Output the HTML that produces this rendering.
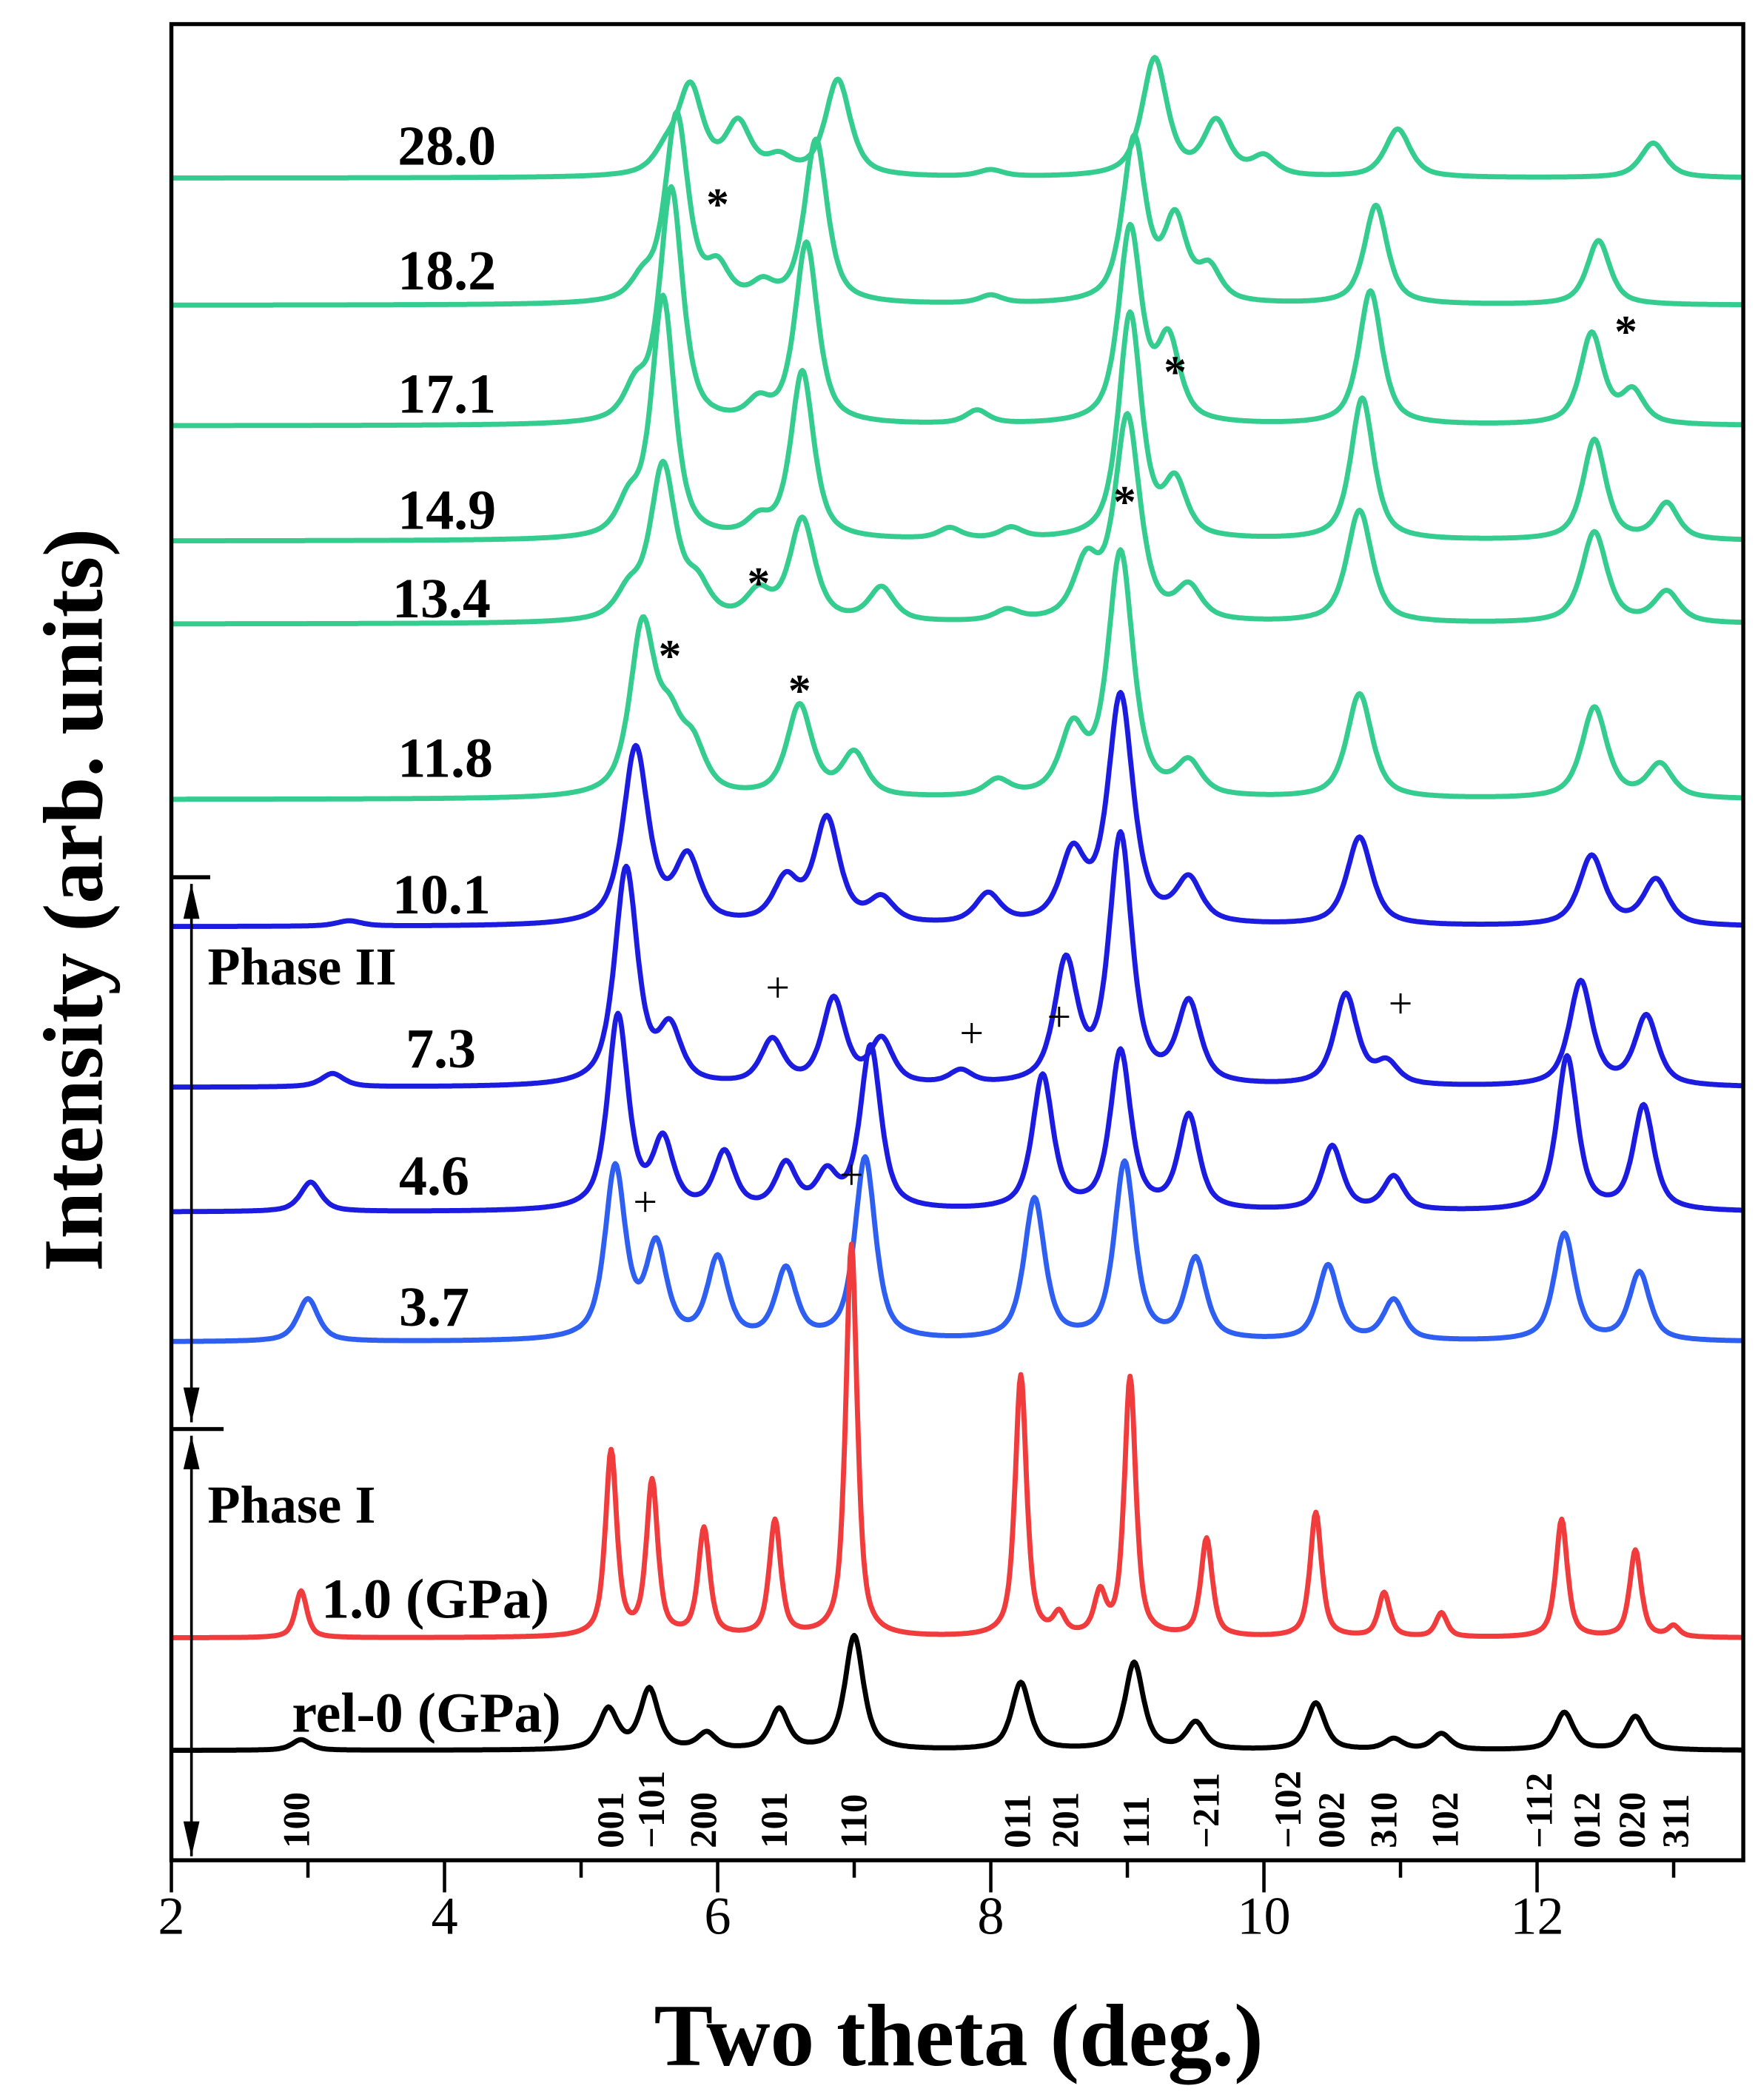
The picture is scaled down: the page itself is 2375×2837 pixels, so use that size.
<!DOCTYPE html>
<html><head><meta charset="utf-8"><title>XRD patterns</title>
<style>
html,body{margin:0;padding:0;background:#fff;}
svg{display:block;}
text{font-family:"Liberation Serif",serif;}
</style></head>
<body>
<svg id="chart" width="2375" height="2837" viewBox="0 0 1313 1568" preserveAspectRatio="none" xmlns="http://www.w3.org/2000/svg">
<rect x="0" y="0" width="1313" height="1568" fill="#fff"/>
<g id="traces"></g>
<g id="ann"></g>
<rect x="128" y="18" width="1174" height="1371" fill="none" stroke="#000" stroke-width="3"/>
<g id="axis"></g>
<text x="716" y="1542" text-anchor="middle" font-size="66" font-weight="bold">Two theta (deg.)</text>
<text transform="translate(76,672) rotate(-90)" text-anchor="middle" font-size="63" font-weight="bold">Intensity (arb. units)</text>
</svg>
<script>
// x-axis
const xMin = 2, xMax = 13.5;
const xTicks = [2,4,6,8,10,12];
const xMinorTicks = [3,5,7,9,11,13];
// series labels and baselines
const seriesLabels = ["28.0","18.2","17.1","14.9","13.4","11.8","10.1","7.3","4.6","3.7","1.0 (GPa)","rel-0 (GPa)"];
const seriesOffsets = [133,228,318,404,466,597,692,812,905,1002,1223,1307];
const seriesColors = ["#35cc8f","#35cc8f","#35cc8f","#35cc8f","#35cc8f","#35cc8f","#1c1ce0","#1c1ce0","#1c1ce0","#2f5ff0","#f03c3c","#000000"];
// peak positions (deg) and heights for each pattern
const pos280 = [5.62,5.8,6.15,6.45,6.88,8.0,9.2,9.65,10.0,10.98,12.85];
const int280 = [15,65,38,12,72,5,88,40,14,36,26];
const pos182 = [5.45,5.7,6.0,6.33,6.72,8.0,9.05,9.35,9.6,10.82,12.45];
const int182 = [15,140,24,12,122,6,122,60,24,74,48];
const pos171 = [5.4,5.66,6.3,6.65,7.9,9.02,9.3,10.78,12.4,12.7];
const int171 = [24,175,14,135,10,145,60,100,68,24];
const pos149 = [5.35,5.6,6.3,6.62,7.7,8.15,9.02,9.35,10.72,12.42,12.95];
const int149 = [24,180,12,125,8,8,168,40,106,75,27];
const pos134 = [5.35,5.6,5.85,6.3,6.62,7.2,8.12,8.7,9.0,9.45,10.7,12.42,12.95];
const int134 = [20,115,24,20,76,25,8,42,152,24,84,68,23];
const pos118 = [5.45,5.65,5.82,6.6,7.0,8.05,8.6,8.95,9.45,10.7,12.42,12.9];
const int118 = [125,45,32,68,32,12,48,182,24,78,68,25];
const pos101 = [3.3,5.4,5.78,6.5,6.8,7.2,7.98,8.6,8.95,9.45,10.7,12.4,12.87];
const int101 = [4,132,48,32,78,18,22,50,170,32,66,52,34];
const pos73 = [3.18,5.33,5.65,6.4,6.85,7.2,7.78,8.55,8.95,9.45,10.6,10.9,12.32,12.8];
const int73 = [10,162,40,33,64,33,10,90,185,60,68,16,78,52];
const pos46 = [3.02,5.27,5.6,6.05,6.5,6.8,7.12,8.38,8.95,9.45,10.5,10.95,12.22,12.78];
const int46 = [22,145,50,42,33,25,122,100,118,70,48,25,115,78];
const pos37 = [3.0,5.25,5.55,6.0,6.5,7.08,8.32,8.98,9.5,10.47,10.95,12.2,12.75];
const int37 = [32,128,68,60,52,136,105,132,60,56,30,80,51];
const pos10 = [2.95,5.22,5.52,5.9,6.42,6.98,8.22,8.5,8.8,9.02,9.58,10.38,10.88,11.3,12.18,12.72,13.0];
const int10 = [35,138,115,80,86,293,195,15,30,193,73,93,33,18,88,65,8];
const posRel = [2.95,5.2,5.5,5.92,6.45,7.0,8.22,9.05,9.5,10.38,10.95,11.3,12.2,12.72];
const intRel = [8,30,45,12,30,85,50,65,20,35,8,12,28,25];
const seriesPos = [pos280,pos182,pos171,pos149,pos134,pos118,pos101,pos73,pos46,pos37,pos10,posRel];
const seriesInt = [int280,int182,int171,int149,int134,int118,int101,int73,int46,int37,int10,intRel];
const seriesWidth = [0.11,0.1,0.1,0.1,0.11,0.11,0.11,0.1,0.09,0.09,0.05,0.08];

// hkl labels
const hklLabels = ["100","001","\u2212101","200","101","110","011","201","111","\u2212211","\u2212102","002","310","102","\u2212112","012","020","311"];
const hklPos = [2.92,5.22,5.52,5.9,6.42,7.0,8.2,8.55,9.07,9.58,10.18,10.5,10.88,11.33,12.02,12.37,12.7,13.02];
// marker annotations
const starX = [6.0,9.35,12.65,8.98,6.3,5.65,6.6];
const starY = [150,275,245,372,433,487,513];
const plusX = [5.47,6.98,6.44,7.86,8.5,11.0];
const plusY = [898,878,738,772,760,750];

const NS = "http://www.w3.org/2000/svg";
const xScale = v => 128 + (v - xMin) * 102;
function mk(tag, attrs, parent){const e=document.createElementNS(NS,tag);for(const k in attrs)e.setAttribute(k,attrs[k]);parent.appendChild(e);return e;}
function yScale(i, v){return seriesOffsets[i] - v;}

const tr = document.getElementById('traces');
const ann = document.getElementById('ann');
const ax = document.getElementById('axis');
for (let i = 0; i < seriesLabels.length; i++) {
  const P = seriesPos[i], H = seriesInt[i], w = seriesWidth[i];
  let d = "";
  for (let x = xMin; x <= xMax + 1e-9; x += 0.01) {
    let s = 0;
    for (let j = 0; j < P.length; j++) {
      const u = (x - P[j]) / w;
      s += H[j] * (0.7 / (1 + u*u) + 0.3 * Math.exp(-0.693 * u*u));
    }
    d += (d ? "L" : "M") + xScale(x).toFixed(1) + "," + yScale(i, s).toFixed(1);
  }
  const p = mk('path', {d: d, fill: 'none', stroke: seriesColors[i], 'stroke-width': 3.8, 'stroke-linejoin': 'round'}, tr);
  
  
}
// series labels
const labelXs = [297,297,297,297,293,297,293,303,298,298,240,218];
const labelYs = [123,216,308,395,461,580,682,797,892,990,1208,1293];
for (let i = 0; i < seriesLabels.length; i++) {
  const t = mk('text', {x: labelXs[i], y: labelYs[i], 'font-size': 42, 'font-weight': 'bold'}, ann);
  t.textContent = seriesLabels[i];
  
  
}
// phase labels
const ph2 = mk('text', {x: 155, y: 735, 'font-size': 40, 'font-weight': 'bold'}, ann); ph2.textContent = "Phase II";


const ph1 = mk('text', {x: 155, y: 1137, 'font-size': 40, 'font-weight': 'bold'}, ann); ph1.textContent = "Phase I";


// phase arrows
const arr = mk('g', {stroke: '#000', 'stroke-width': 2}, ann);


mk('line', {x1: 128, y1: 655, x2: 157, y2: 655, 'stroke-width': 3}, arr);
mk('line', {x1: 128, y1: 1067, x2: 167, y2: 1067, 'stroke-width': 3}, arr);
mk('line', {x1: 143, y1: 660, x2: 143, y2: 1062}, arr);
mk('line', {x1: 143, y1: 1072, x2: 143, y2: 1386}, arr);
mk('path', {d: 'M143,660 L137,686 L149,686Z', fill: '#000', stroke: 'none'}, arr);
mk('path', {d: 'M143,1062 L137,1036 L149,1036Z', fill: '#000', stroke: 'none'}, arr);
mk('path', {d: 'M143,1072 L137,1097 L149,1097Z', fill: '#000', stroke: 'none'}, arr);
mk('path', {d: 'M143,1386 L137,1360 L149,1360Z', fill: '#000', stroke: 'none'}, arr);
// markers
for (let i = 0; i < starX.length; i++) {
  const t = mk('text', {x: xScale(starX[i]), y: starY[i] + 14, 'font-size': 34, 'font-weight': 'bold', 'text-anchor': 'middle'}, ann);
  t.textContent = "*";
  
  
}
for (let i = 0; i < plusX.length; i++) {
  const t = mk('text', {x: xScale(plusX[i]), y: plusY[i] + 10, 'font-size': 32, 'text-anchor': 'middle'}, ann);
  t.textContent = "+";
  
  
}
// hkl labels
for (let i = 0; i < hklLabels.length; i++) {
  const x = xScale(hklPos[i]) + 9;
  const t = mk('text', {transform: 'translate(' + x.toFixed(1) + ',1380) rotate(-90)', 'font-size': 28, 'font-weight': 'bold'}, ann);
  t.textContent = hklLabels[i];
  
  
}
// ticks
for (const v of xTicks) {
  const l = mk('line', {x1: xScale(v), y1: 1389, x2: xScale(v), y2: 1413, stroke: '#000', 'stroke-width': 2.5}, ax);
  
  
  const t = mk('text', {x: xScale(v), y: 1444, 'font-size': 40, 'text-anchor': 'middle'}, ax);
  t.textContent = v;
  
  
}
for (const v of xMinorTicks) {
  const l = mk('line', {x1: xScale(v), y1: 1389, x2: xScale(v), y2: 1402, stroke: '#000', 'stroke-width': 2.5}, ax);
  
  
}
</script>
</body></html>
